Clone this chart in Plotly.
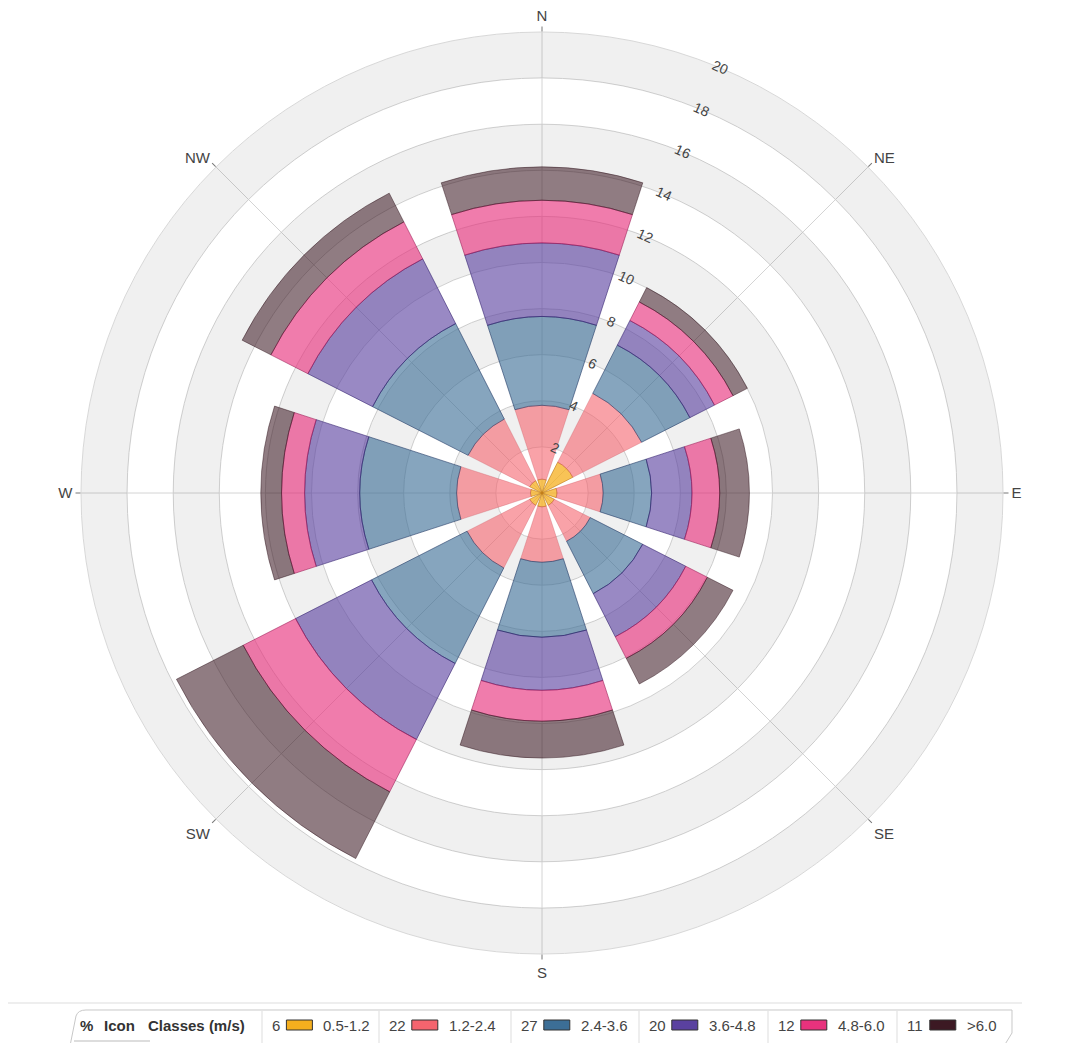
import numpy as np
import plotly.graph_objects as go

# ---------------- data ----------------
directions = ["N", "NE", "E", "SE", "S", "SW", "W", "NW"]
dir_angles = [0, 45, 90, 135, 180, 225, 270, 315]
classes = ["0.5-1.2", "1.2-2.4", "2.4-3.6", "3.6-4.8", "4.8-6.0", ">6.0"]
class_pct = [6, 22, 27, 20, 12, 11]

v_0p5_1p2 = [0.60, 1.50, 0.65, 0.60, 0.60, 0.60, 0.50, 0.60]
v_1p2_2p4 = [3.20, 3.35, 2.00, 1.75, 2.40, 3.05, 3.20, 3.00]
v_2p4_3p6 = [3.85, 2.35, 2.10, 2.55, 3.25, 4.65, 4.20, 4.65]
v_3p6_4p8 = [3.20, 1.20, 1.75, 2.10, 2.30, 3.70, 2.40, 3.15]
v_4p8_6p0 = [1.85, 0.90, 1.20, 1.05, 1.35, 2.55, 1.00, 1.80]
v_gt_6p0 = [1.45, 0.70, 1.30, 1.25, 1.60, 3.25, 0.90, 1.40]
series = [v_0p5_1p2, v_1p2_2p4, v_2p4_3p6, v_3p6_4p8, v_4p8_6p0, v_gt_6p0]

radial_ticks = [2, 4, 6, 8, 10, 12, 14, 16, 18, 20]

# ---------------- styles ----------------
W, H = 1075, 1043
OFF = 8  # page body margin offset
FONT = "Liberation Sans, Arial, sans-serif"
base_rgb = [(245, 175, 30), (245, 100, 110), (60, 110, 150),
            (90, 65, 160), (232, 50, 125), (60, 25, 35)]
fill_alpha = [0.75, 0.6, 0.62, 0.62, 0.64, 0.57]
line_rgba = ["rgba(190,120,20,0.7)", "rgba(200,80,90,0.35)", "rgba(30,55,100,0.65)",
             "rgba(50,30,110,0.65)", "rgba(150,20,80,0.6)", "rgba(40,10,20,0.5)"]
bar_width = 36

fig = go.Figure()

# alternating background bands (every other ring between radial ticks)
band_base = radial_ticks[0::2]
band_size = [radial_ticks[1] - radial_ticks[0]] * len(band_base)
fig.add_trace(go.Barpolar(
    r=band_size, base=band_base, theta=[0] * len(band_base), width=[360] * len(band_base),
    marker=dict(color="rgba(0,0,0,0.06)", line=dict(width=0)),
    hoverinfo="skip", showlegend=False))

# stacked wind-rose bars
cum = np.zeros(len(directions))
for name, vals, rgb, a, lc in zip(classes, series, base_rgb, fill_alpha, line_rgba):
    fig.add_trace(go.Barpolar(
        r=vals, base=cum.copy(), theta=dir_angles, width=[bar_width] * len(directions),
        name=name,
        marker=dict(color="rgba(%d,%d,%d,%.2f)" % (rgb + (a,)),
                    line=dict(color=lc, width=0.9)),
        showlegend=False))
    cum = cum + np.array(vals)

def px(x):
    return (x - OFF) / W

def py(y):
    return 1 - (y - OFF) / H

shapes = []
annotations = []

# custom legend panel
shapes.append(dict(type="line", xref="paper", yref="paper", x0=0, x1=px(1022), y0=py(1003), y1=py(1003),
                   line=dict(color="#eeeeee", width=2), layer="below"))
path = "M %f %f L %f %f Q %f %f %f %f L %f %f L %f %f L %f %f Z" % (
    px(70), py(1046), px(76), py(1016), px(78), py(1010), px(86), py(1010),
    px(1012), py(1010), px(1012), py(1033), px(1004), py(1046))
shapes.append(dict(type="path", xref="paper", yref="paper", path=path,
                   fillcolor="white", line=dict(color="#c8c8c8", width=1)))
shapes.append(dict(type="line", xref="paper", yref="paper", x0=px(74), x1=px(150), y0=py(1041), y1=py(1041),
                   line=dict(color="#bbbbbb", width=1)))

ytxt = py(1025)
annotations.append(dict(xref="paper", yref="paper", x=px(78), y=ytxt, xanchor="left", yanchor="middle",
                        text="<b>%</b>", showarrow=False, font=dict(family=FONT, size=15, color="#333")))
annotations.append(dict(xref="paper", yref="paper", x=px(102), y=ytxt, xanchor="left", yanchor="middle",
                        text="<b>Icon</b>", showarrow=False, font=dict(family=FONT, size=15, color="#333")))
annotations.append(dict(xref="paper", yref="paper", x=px(146), y=ytxt, xanchor="left", yanchor="middle",
                        text="<b>Classes (m/s)</b>", showarrow=False, font=dict(family=FONT, size=15, color="#333")))

sep_x = [262, 379, 511, 639, 768, 897]
for sx, name, pct, rgb in zip(sep_x, classes, class_pct, base_rgb):
    shapes.append(dict(type="line", xref="paper", yref="paper", x0=px(sx), x1=px(sx),
                       y0=py(1011), y1=py(1046), line=dict(color="#dddddd", width=1)))
    ntxt = str(pct)
    nx = sx + 8
    annotations.append(dict(xref="paper", yref="paper", x=px(nx), y=ytxt, xanchor="left", yanchor="middle",
                            text=ntxt, showarrow=False, font=dict(family=FONT, size=15, color="#444")))
    bx0 = nx + 8.4 * len(ntxt) + 8
    bx1 = bx0 + 26
    shapes.append(dict(type="rect", xref="paper", yref="paper", x0=px(bx0), x1=px(bx1),
                       y0=py(1030), y1=py(1020), fillcolor="rgb(%d,%d,%d)" % rgb,
                       line=dict(color="#333", width=1)))
    annotations.append(dict(xref="paper", yref="paper", x=px(bx1 + 9), y=ytxt, xanchor="left", yanchor="middle",
                            text=name, showarrow=False, font=dict(family=FONT, size=15, color="#444")))

fig.update_layout(
    width=W, height=H,
    margin=dict(l=0, r=0, t=0, b=0),
    paper_bgcolor="white",
    font=dict(family=FONT, color="#444"),
    showlegend=False,
    shapes=shapes,
    annotations=annotations,
    polar=dict(
        domain=dict(x=[px(81), px(1003)], y=[py(954), py(32)]),
        bgcolor="rgba(0,0,0,0)",
        barmode="overlay",
        radialaxis=dict(range=[0, 20], tickvals=radial_ticks, angle=66, tickangle=90,
                        side="counterclockwise",
                        showline=False, ticks="", gridcolor="#d4d4d4", gridwidth=1,
                        tickfont=dict(family=FONT, size=14, color="#444"), layer="above traces"),
        angularaxis=dict(direction="clockwise", rotation=90, tickmode="array",
                         tickvals=dir_angles, ticktext=directions,
                         gridcolor="#d4d4d4", gridwidth=1, ticks="outside", ticklen=5,
                         tickcolor="#777", showline=True, linecolor="#d8d8d8",
                         tickfont=dict(family=FONT, size=15, color="#444")),
    ),
)

fig.write_html("out.html")
